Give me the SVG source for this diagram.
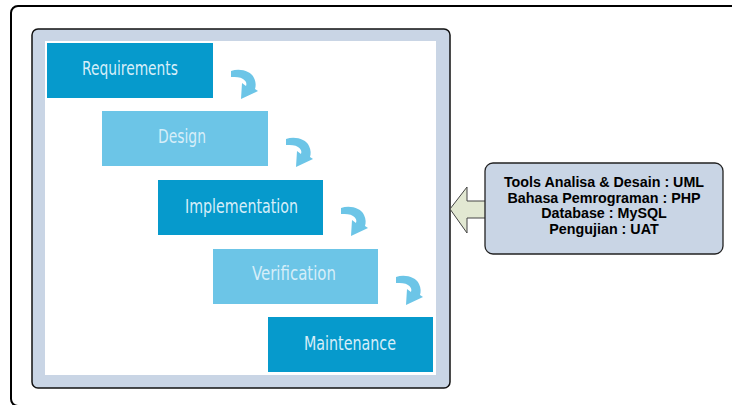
<svg xmlns="http://www.w3.org/2000/svg" xmlns:xlink="http://www.w3.org/1999/xlink" width="732" height="405" viewBox="0 0 732 405">
<style>
.dark{fill:#069acc}
.light{fill:#6cc5e7}
.step{font-family:"DejaVu Sans Condensed","Liberation Sans",sans-serif;font-size:19px;fill:#d6eef9;text-anchor:middle}
.info{font-family:"Liberation Sans",Arial,sans-serif;font-size:14.3px;font-weight:bold;fill:#000;text-anchor:middle}
.curl{fill:#6cc5e7}
</style>
<defs>
<path id="curl" class="curl" d="M1,1 C10,-2 21,1 24,8 C26,12 26,16 25,19 L28,21 L11,29 L12,13 L16,16 C17,13 16,11 13,9 C10,7 6,7 1,7 Z"/>
</defs>
<rect x="11" y="6" width="740" height="400" rx="7" fill="#fff" stroke="#000" stroke-width="2"/>
<g id="panel">
<rect x="32" y="29" width="418" height="359" rx="6" fill="#c9d5e5" stroke="#111" stroke-width="1.5"/>
<rect x="45" y="41" width="391" height="334" fill="#fff"/>
</g>
<g id="requirements"><rect class="dark" x="47" y="43" width="166" height="55"/><text class="step" x="130" y="75" textLength="96" lengthAdjust="spacingAndGlyphs">Requirements</text></g>
<g id="design"><rect class="light" x="102" y="111" width="166" height="55"/><text class="step" x="182" y="143" textLength="48" lengthAdjust="spacingAndGlyphs">Design</text></g>
<g id="implementation"><rect class="dark" x="158" y="180" width="165" height="55"/><text class="step" x="241.5" y="213" textLength="113" lengthAdjust="spacingAndGlyphs">Implementation</text></g>
<g id="verification"><rect class="light" x="213" y="249" width="165" height="55"/><text class="step" x="294" y="280" textLength="84" lengthAdjust="spacingAndGlyphs">Verification</text></g>
<g id="maintenance"><rect class="dark" x="268" y="317" width="165" height="55"/><text class="step" x="350" y="350" textLength="92" lengthAdjust="spacingAndGlyphs">Maintenance</text></g>
<g id="connectors">
<use xlink:href="#curl" x="230" y="70"/>
<use xlink:href="#curl" x="285" y="138"/>
<use xlink:href="#curl" x="340" y="207"/>
<use xlink:href="#curl" x="395" y="276"/>
<path d="M450,209 L467,187 L467,201 L486,201 L486,218 L467,218 L467,233 Z" fill="#e2e8d2" stroke="#444" stroke-width="1"/>
</g>
<g id="tools">
<rect x="485" y="163" width="238" height="91" rx="8" fill="#c9d5e5" stroke="#222" stroke-width="1.3"/>
<text class="info" x="604" y="187">Tools Analisa &amp; Desain : UML</text>
<text class="info" x="604" y="202.5">Bahasa Pemrograman : PHP</text>
<text class="info" x="604" y="218">Database : MySQL</text>
<text class="info" x="604" y="233.5">Pengujian : UAT</text>
</g>
</svg>
